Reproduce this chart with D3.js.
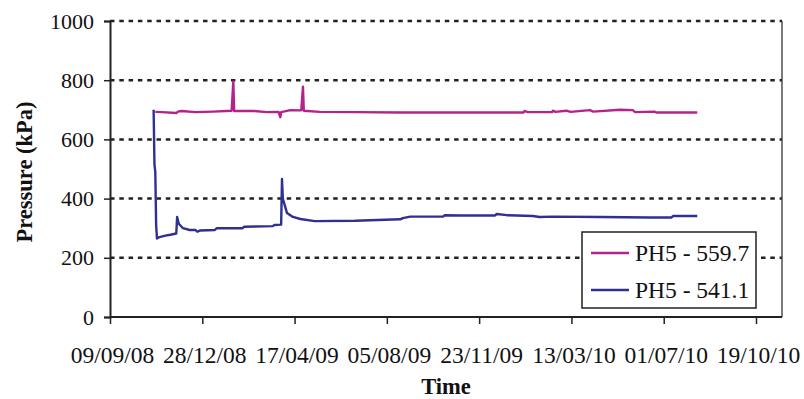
<!DOCTYPE html>
<html>
<head>
<meta charset="utf-8">
<script src="https://cdn.jsdelivr.net/npm/d3@7"></script>
<style>
  html, body { margin: 0; padding: 0; background: #fff; }
  svg { display: block; }
  svg text { font-family: "Times New Roman", "Liberation Serif", Tinos, Times, serif !important; fill: #111; }
</style>
</head>
<body>
<svg id="chart" width="804" height="399"></svg>
<script>
// Piezometer PH5 pore pressure readings (kPa)
const seriesNames = ["PH5 - 559.7", "PH5 - 541.1"];
const seriesColors = ["#B4238C", "#2E3192"];

const dates5597 = ["2008-11-02","2008-11-10","2008-11-27","2008-11-29","2008-12-03","2008-12-20","2009-01-10","2009-02-01",
  "2009-02-03","2009-02-04","2009-02-28","2009-03-15","2009-03-29","2009-03-31","2009-04-01","2009-04-12","2009-04-25",
  "2009-04-27","2009-04-28","2009-05-17","2009-06-28","2009-08-21","2009-12-01","2010-01-15","2010-01-16","2010-01-20",
  "2010-02-18","2010-02-19","2010-02-22","2010-03-07","2010-03-12","2010-04-04","2010-04-08","2010-05-10","2010-05-25",
  "2010-05-28","2010-06-20","2010-06-22","2010-07-01","2010-08-10"];
const values5597 = [693, 692, 689, 694, 696, 692, 694, 697,
  795, 696, 696, 692, 693, 675, 692, 699, 698,
  778, 697, 693, 692, 691, 691, 691, 696, 692,
  692, 697, 693, 697, 693, 699, 694, 700, 699,
  692, 694, 691, 691, 691];

const dates5411 = ["2008-10-31","2008-11-01","2008-11-02","2008-11-03","2008-11-04","2008-11-07","2008-11-14","2008-11-20",
  "2008-11-27","2008-11-28","2008-11-30","2008-12-05","2008-12-13","2008-12-20","2008-12-22","2008-12-25","2009-01-12",
  "2009-01-14","2009-02-14","2009-02-16","2009-03-22","2009-03-24","2009-04-01","2009-04-02","2009-04-03","2009-04-08",
  "2009-04-15","2009-04-24","2009-05-11","2009-06-28","2009-08-21","2009-08-24","2009-09-02","2009-10-11","2009-10-13",
  "2009-11-01","2009-12-12","2009-12-14","2009-12-26","2010-01-26","2010-02-03","2010-02-19","2010-04-16","2010-06-14",
  "2010-07-10","2010-07-12","2010-08-10"];
const values5411 = [700, 515, 490, 310, 265, 270, 275, 278,
  282, 338, 315, 300, 294, 294, 288, 292, 294,
  300, 300, 305, 307, 311, 312, 466, 400, 351,
  338, 331, 324, 325, 330, 334, 339, 339, 344,
  343, 343, 348, 344, 341, 338, 339, 338, 336,
  336, 341, 341];

const xTickLabels = ["09/09/08","28/12/08","17/04/09","05/08/09","23/11/09","13/03/10","01/07/10","19/10/10"];
const yTicks = [0, 200, 400, 600, 800, 1000];

const parse = d3.timeParse("%Y-%m-%d");
const parseTick = d3.timeParse("%d/%m/%y");
const fmtTick = d3.timeFormat("%d/%m/%y");

const svg = d3.select("#chart");
const W = 804, H = 399;
const m = { left: 110, top: 21, right: 782, bottom: 317 };

svg.append("rect").attr("width", W).attr("height", H).attr("fill", "#fff");

const tickDates = xTickLabels.map(parseTick);
const x = d3.scaleTime().domain([tickDates[0], tickDates[tickDates.length - 1]])
  .range([m.left, m.left + 646]);
const y = d3.scaleLinear().domain([0, 1000]).range([m.bottom, m.top]);

// horizontal dotted gridlines
svg.append("g").selectAll("line").data(yTicks.filter(v => v > 0)).join("line")
  .attr("x1", m.left).attr("x2", m.right)
  .attr("y1", d => y(d)).attr("y2", d => y(d))
  .attr("stroke", "#222").attr("stroke-width", 2.5).attr("stroke-dasharray", "4.5,4.8");

// plot area right edge
svg.append("line").attr("x1", m.right).attr("x2", m.right)
  .attr("y1", m.top).attr("y2", m.bottom).attr("stroke", "#333").attr("stroke-width", 1.3);

const series = [
  { name: seriesNames[0], color: seriesColors[0], data: dates5597.map((d, i) => ({ t: parse(d), v: values5597[i] })) },
  { name: seriesNames[1], color: seriesColors[1], data: dates5411.map((d, i) => ({ t: parse(d), v: values5411[i] })) }
];

const line = d3.line().x(d => x(d.t)).y(d => y(d.v));
series.forEach(s => {
  svg.append("path").datum(s.data)
    .attr("d", line).attr("fill", "none")
    .attr("stroke", s.color).attr("stroke-width", 2.4)
    .attr("stroke-linejoin", "round");
});

// y axis
const yAxis = d3.axisLeft(y).tickValues(yTicks).tickSize(6).tickPadding(10).tickFormat(d3.format("d"));
const gy = svg.append("g").attr("transform", `translate(${m.left},0)`).call(yAxis);
gy.select(".domain").attr("stroke", "#222").attr("stroke-width", 2);
gy.selectAll(".tick line").attr("stroke", "#222").attr("stroke-width", 1.5);
gy.selectAll(".tick text").attr("font-size", 22).attr("fill", "#111");

// x axis
const xAxis = d3.axisBottom(x).tickValues(tickDates).tickSize(7).tickPadding(22).tickFormat(fmtTick);
const gx = svg.append("g").attr("transform", `translate(0,${m.bottom})`).call(xAxis);
gx.select(".domain").attr("stroke", "#222").attr("stroke-width", 2).attr("d", `M${m.left},0H${m.right}`);
gx.selectAll(".tick line").attr("stroke", "#222").attr("stroke-width", 1.5);
gx.selectAll(".tick text").attr("font-size", 23.5).attr("fill", "#111").attr("dx", 2);

// axis titles
svg.append("text").attr("x", (m.left + m.right) / 2).attr("y", 394)
  .attr("text-anchor", "middle").attr("font-size", 22.5).attr("font-weight", "bold").text("Time");
svg.append("text").attr("transform", "translate(32,172) rotate(-90)")
  .attr("text-anchor", "middle").attr("font-size", 22.5).attr("font-weight", "bold").text("Pressure (kPa)");

// legend
const lg = svg.append("g").attr("transform", "translate(582,232)");
lg.append("rect").attr("width", 174).attr("height", 76)
  .attr("fill", "#fff").attr("stroke", "#222").attr("stroke-width", 1.5);
series.forEach((s, i) => {
  const cy = 21 + i * 37;
  lg.append("line").attr("x1", 9).attr("x2", 47).attr("y1", cy).attr("y2", cy)
    .attr("stroke", s.color).attr("stroke-width", 2.6);
  lg.append("text").attr("x", 53).attr("y", cy + 8).attr("font-size", 23.5).text(s.name);
});
</script>
</body>
</html>
